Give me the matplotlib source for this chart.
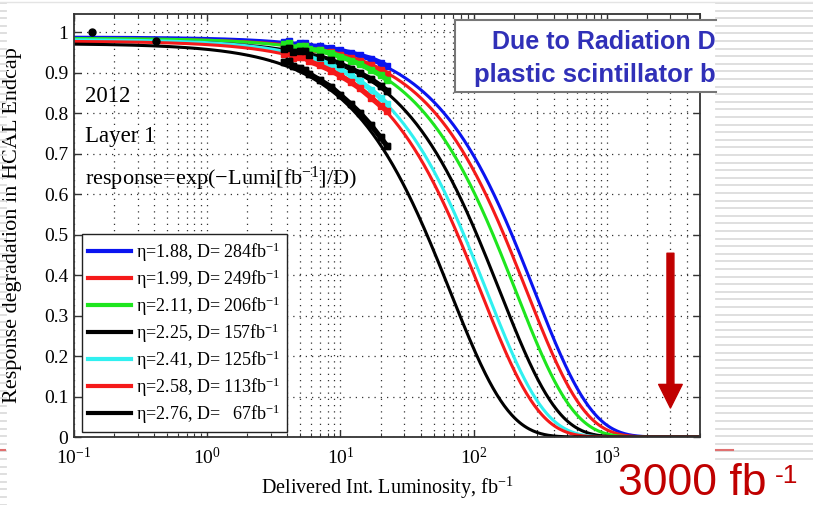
"""
HCAL endcap layer-1 response degradation vs delivered luminosity
"""

import matplotlib.pyplot as plt
import numpy as np
from matplotlib.lines import Line2D

plt.rcParams['font.family'] = ['Liberation Serif', 'DejaVu Serif']
plt.rcParams['mathtext.fontset'] = 'custom'
plt.rcParams['mathtext.rm'] = 'Liberation Serif'
plt.rcParams['mathtext.it'] = 'Liberation Serif:italic'
plt.rcParams['mathtext.bf'] = 'Liberation Serif:bold'

# fit parameters per eta ring
etas = ['1.88', '1.99', '2.11', '2.25', '2.41', '2.58', '2.76']
d_vals = [284, 249, 206, 157, 125, 113, 67]
norms = [0.988, 0.984, 0.985, 0.980, 0.982, 0.978, 0.972]
colors = ['#0a14f0', '#f51a1a', '#1ee61e', '#000000', '#30f0f0', '#f51a1a', '#000000']

lumi_pts = [3.8, 4.1, 4.4, 5.0, 5.4, 5.8, 7, 8.5, 10, 12, 14, 17, 20, 22.5]
resp_pts = [
    [0.975, 0.978, 0.969, 0.973, 0.974, 0.966, 0.965, 0.960, 0.955, 0.949, 0.943, 0.935, 0.925, 0.916],
    [0.966, 0.970, 0.960, 0.964, 0.965, 0.956, 0.955, 0.950, 0.943, 0.936, 0.929, 0.918, 0.907, 0.898],
    [0.970, 0.973, 0.962, 0.966, 0.967, 0.958, 0.955, 0.948, 0.940, 0.930, 0.921, 0.907, 0.894, 0.882],
    [0.958, 0.961, 0.950, 0.953, 0.954, 0.944, 0.939, 0.931, 0.921, 0.910, 0.899, 0.884, 0.868, 0.855],
    [0.951, 0.954, 0.944, 0.947, 0.947, 0.938, 0.930, 0.919, 0.908, 0.893, 0.879, 0.858, 0.838, 0.822],
    [0.945, 0.948, 0.937, 0.940, 0.939, 0.928, 0.918, 0.905, 0.892, 0.876, 0.861, 0.838, 0.818, 0.805],
    [0.927, 0.930, 0.916, 0.912, 0.906, 0.898, 0.882, 0.865, 0.845, 0.822, 0.801, 0.770, 0.740, 0.718],
]
early_lumi = [0.137, 0.41]
early_resp = [1.0, 0.979]

target_lumi = 3000

W, H = 813, 505
fig = plt.figure(figsize=(W / 100, H / 100), dpi=100)

# slide background stripes
for y in np.arange(3, 462, 7.6):
    fig.add_artist(Line2D([716 / W, 1], [1 - y / H] * 2, color='#dcdcdc', lw=1.3))
for y in np.arange(3, 505, 7.6):
    fig.add_artist(Line2D([0, 6 / W], [1 - y / H] * 2, color='#dcdcdc', lw=1.3))
fig.add_artist(Line2D([0, 1], [1 - 2 / H] * 2, color='#e4e4e4', lw=1))
fig.add_artist(Line2D([0, 5 / W], [1 - 450 / H] * 2, color='#e07070', lw=1.5))
fig.add_artist(Line2D([716 / W, 733 / W], [1 - 450 / H] * 2, color='#e07070', lw=1.5))

ax = fig.add_axes([74 / W, 68 / H, 626 / W, 423 / H])
ax.set_xscale('log')

lumi = np.logspace(-1, np.log10(5000), 500)
handles = []
for eta, d, a, c in zip(etas, d_vals, norms, colors):
    h, = ax.plot(lumi, a * np.exp(-lumi / d), color=c, lw=2.2,
                 label=f'η={eta}, D= {d:>3}fb$^{{-1}}$'.replace(' 67', '  67'))
    handles.append(h)

for r, c in zip(resp_pts, colors):
    ax.plot(lumi_pts, r, '-s', color=c, lw=3.8, ms=4.5, zorder=4)
for r in (resp_pts[3], resp_pts[6]):
    ax.plot(lumi_pts, r, 's', color='k', ms=4.5, zorder=5)
ax.plot(early_lumi, early_resp, 'o', color='k', ms=5, zorder=5)

ax.set_xlim(0.1, 5000)
ax.set_ylim(0, 1.045)
ax.set_yticks(np.arange(0, 1.01, 0.1))
ax.set_yticklabels(['0', '0.1', '0.2', '0.3', '0.4', '0.5', '0.6', '0.7', '0.8', '0.9', '1'])

ax.grid(True, which='major', color='#333333', ls=(0, (1, 4)), lw=0.9)
ax.grid(True, which='minor', axis='x', color='#333333', ls=(0, (1, 4)), lw=0.9)
ax.tick_params(which='both', direction='in', top=True, right=True, labelsize=14, color='#333333')
ax.tick_params(which='major', length=5, width=1)
ax.tick_params(which='minor', length=3, width=0.8)
ax.tick_params(axis='x', pad=7)
ax.tick_params(axis='y', pad=4)
for s in ax.spines.values():
    s.set_linewidth(1.3)
    s.set_color('#333333')

ax.set_xlabel('Delivered Int. Luminosity, fb$^{-1}$', fontsize=14.5)
ax.set_ylabel('Response degradation in HCAL Endcap', fontsize=16)
ax.xaxis.set_label_coords(0.5, -0.09)
ax.yaxis.set_label_coords(-0.083, 0.5)

tr = ax.get_yaxis_transform()
ax.text(0.0176, 0.827, '2012', fontsize=16.5, transform=tr)
ax.text(0.0176, 0.730, 'Layer 1', fontsize=16.5, transform=tr)
ax.text(0.0176, 0.622, 'response=exp(\u2212Lumi[fb$^{-1}$]/D)', fontsize=16, transform=tr)

leg = ax.legend(handles=handles, loc='lower left', bbox_to_anchor=(0.012, 0.012),
                borderaxespad=0, fontsize=13, handlelength=2.4, handletextpad=0.25,
                labelspacing=0.2, borderpad=0.35, fancybox=False, framealpha=1,
                edgecolor='#222222')
leg.get_frame().set_linewidth(1)
for lh in leg.get_lines():
    lh.set_linewidth(3)

ax.annotate('', xy=(target_lumi, 0.0716), xytext=(target_lumi, 0.454),
            arrowprops=dict(width=5, headwidth=17, headlength=17, color='#c00000', shrink=0))

# callout box, cut off at the slide edge
bx = fig.add_axes([455 / W, 1 - 92 / H, (716 - 455) / W, 72 / H])
bx.set_xticks([])
bx.set_yticks([])
bx.spines['right'].set_visible(False)
for s in ('left', 'top', 'bottom'):
    bx.spines[s].set_color('#777777')
    bx.spines[s].set_linewidth(1.5)
fig.text(716 / W, 1 - 49 / H, 'Due to Radiation D', fontsize=18, fontweight='bold',
         family='Liberation Sans', color='#3030b8', ha='right', va='baseline')
fig.text(716 / W, 1 - 82 / H, 'plastic scintillator b', fontsize=18.5, fontweight='bold',
         family='Liberation Sans', color='#3030b8', ha='right', va='baseline')

fig.text(618 / W, 1 - 495 / H, '3000 fb', fontsize=32, family='Liberation Sans',
         color='#c00000', va='baseline')
fig.text(775 / W, 1 - 483 / H, '-1', fontsize=19, family='Liberation Sans',
         color='#c00000', va='baseline')

fig.savefig('out.png', dpi=100)
